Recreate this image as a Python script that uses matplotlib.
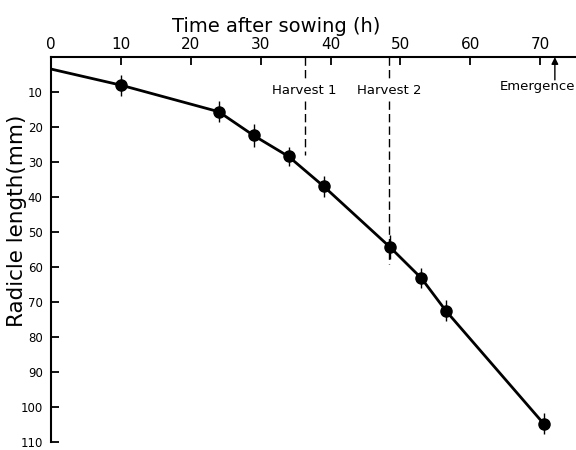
import matplotlib.pyplot as plt

time_h = [0, 10, 24, 29, 34, 39, 48.5, 53, 56.5, 70.5]
radicle_mm = [3.4, 8, 15.6, 22.4, 28.4, 36.9, 54.3, 63.2, 72.5, 104.8]
err_mm = [0, 3, 3, 3.2, 2.8, 3, 3.5, 2.8, 3, 3]

harvest_times = [36.3, 48.4]
harvest_labels = ['Harvest 1', 'Harvest 2']
harvest_ends = [28, 59]
emergence_time = 72.1

fig = plt.figure(figsize=(5.76, 4.5), dpi=100)
ax = fig.add_axes([0.0885, 0.018, 0.91, 0.855])

ax.errorbar(time_h[1:], radicle_mm[1:], yerr=err_mm[1:], fmt='none',
            ecolor='black', elinewidth=1.0, capsize=0)
ax.plot(time_h, radicle_mm, color='black', lw=2)
ax.plot(time_h[1:], radicle_mm[1:], 'o', color='black', ms=8)

# harvest markers
for t, lab, end in zip(harvest_times, harvest_labels, harvest_ends):
    ax.plot([t, t], [0, 6.5], color='black', lw=1, ls=(0, (6, 3)))
    ax.plot([t, t], [12.5, end], color='black', lw=1, ls=(0, (6, 3)))
    ax.text(t, 9.5, lab, ha='center', va='center', fontsize=9.5)

ax.annotate('', xy=(emergence_time, 0), xytext=(emergence_time, 6.5),
            arrowprops=dict(arrowstyle='-|>', color='black', lw=1,
                            mutation_scale=10, shrinkA=0, shrinkB=0))
ax.text(75, 8.5, 'Emergence', ha='right', va='center', fontsize=9.5)

ax.set_xlim(0, 75)
ax.set_ylim(110, 0)
ax.set_xticks(range(0, 80, 10))
ax.set_yticks(range(10, 120, 10))
ax.xaxis.tick_top()
ax.xaxis.set_label_position('top')
ax.tick_params(axis='x', direction='in', length=6, width=1.3, labelsize=11, pad=4)
ax.tick_params(axis='y', direction='in', length=6, width=1.3, labelsize=8.5, pad=6)
ax.spines['right'].set_visible(False)
ax.spines['bottom'].set_visible(False)
ax.spines['top'].set_linewidth(1.5)
ax.spines['left'].set_linewidth(1.5)

ax.set_xlabel('Time after sowing (h)', fontsize=14, labelpad=6)
ax.xaxis.set_label_coords(0.43, 1.065)
ax.set_ylabel('Radicle length(mm)', fontsize=15.5)
ax.yaxis.set_label_coords(-0.046, 0.575)

plt.savefig('out.png', dpi=100)
